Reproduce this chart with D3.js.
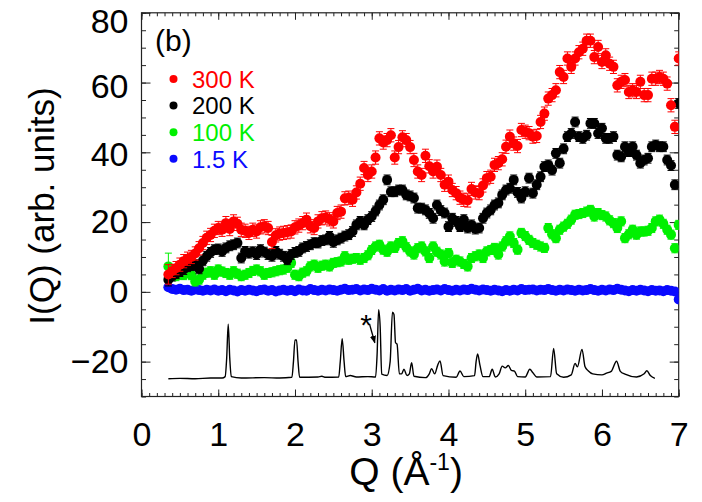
<!DOCTYPE html>
<html>
<head>
<meta charset="utf-8">
<script src="https://cdn.jsdelivr.net/npm/d3@7"></script>
<style>
  body { margin: 0; background: #fff; }
  svg { display: block; }
  text { font-family: "Liberation Sans", Arial, Helvetica, sans-serif; }
</style>
</head>
<body>
<svg id="chart" width="702" height="502"></svg>
<script>
// Momentum transfer grid (Å^-1)
const qValues = [
  0.35,0.40,0.45,0.50,0.55,0.60,0.65,0.70,0.75,0.80,
  0.85,0.90,0.95,1.00,1.05,1.10,1.15,1.20,1.25,1.30,
  1.35,1.40,1.45,1.50,1.55,1.60,1.65,1.70,1.75,1.80,
  1.85,1.90,1.95,2.00,2.05,2.10,2.15,2.20,2.25,2.30,
  2.35,2.40,2.45,2.50,2.55,2.60,2.65,2.70,2.75,2.80,
  2.85,2.90,2.95,3.00,3.05,3.10,3.15,3.20,3.25,3.30,
  3.35,3.40,3.45,3.50,3.55,3.60,3.65,3.70,3.75,3.80,
  3.85,3.90,3.95,4.00,4.05,4.10,4.15,4.20,4.25,4.30,
  4.35,4.40,4.45,4.50,4.55,4.60,4.65,4.70,4.75,4.80,
  4.85,4.90,4.95,5.00,5.05,5.10,5.15,5.20,5.25,5.30,
  5.35,5.40,5.45,5.50,5.55,5.60,5.65,5.70,5.75,5.80,
  5.85,5.90,5.95,6.00,6.05,6.10,6.15,6.20,6.25,6.30,
  6.35,6.40,6.45,6.50,6.55,6.60,6.65,6.70,6.75,6.80,
  6.85,6.90,6.95,7.00
];

// I(Q) at 300 K
const i300K = [
  5,6,6.8,7.8,8.8,9.5,10,11,12.5,14,
  15.5,16.3,17.5,18.3,17.8,19.7,18,20.2,19.5,17.8,
  17.5,16.9,17.8,17.3,18.5,18.8,18.3,14.3,16.2,16.7,
  16.9,17.1,17.3,18.5,19,19.7,20.7,18.8,18.3,20.2,
  21.1,21.3,20.8,20.2,22.6,23,26.8,27,26.4,28.5,
  31,35.5,33.5,34.5,38.5,44,42.8,43.5,44.9,38.5,
  41.5,44.3,43.5,41.5,37.8,34.5,33.5,39,36,34.5,
  35.9,33.5,30.7,31.6,29.2,28.3,27,26.4,26.2,29.5,
  28.5,28.3,30.5,32.6,33,36.4,36.9,38,41.6,44.5,
  42.5,41.8,46.4,45.9,45.5,44.5,44.7,48.7,51.1,55.4,
  56.4,57.8,63,61.6,66.9,64.5,66.9,68.7,69.7,72,
  72,67.3,70.2,65.9,67.8,65.4,64.5,59.2,60.2,60.7,
  57.3,57.8,57.3,60.2,56.4,56.4,61.1,61.1,61.6,61.1,
  59.7,53.5,47.3,66.9
];

// I(Q) at 200 K
const i200K = [
  3.5,4.5,5.2,5.8,6.4,7.2,7.5,7.8,6.6,8.9,
  10.2,11.3,12.1,12.3,11.6,12.6,13.2,13.5,14,9.7,
  11.6,11.1,11.5,10.7,12.1,11.4,10.7,10.2,11.6,10.8,
  10.2,9.2,10.7,11.3,11.6,12.6,13,13.5,14.1,14,
  14.7,14.9,15.9,14.2,14.9,15.4,16,16.4,17.3,19.2,
  20.2,19.2,20.7,21.6,23.2,24.9,26.4,32.1,28.7,28.7,
  29.2,29.2,27.8,27.5,26.9,24,24,23.5,22.5,21.1,
  24.9,23.3,22.6,18.7,21.1,20.2,18.7,20.7,18.3,19.2,
  18,18.3,21.1,22.6,23.5,24.9,25.5,27.8,29.2,29.7,
  32.1,28.5,26.9,28.7,32.6,28.3,30.7,33,35.9,36.4,
  34.9,39.7,36.9,41,44.5,45.4,48.7,44.5,44,44.9,
  48.3,48.3,45.4,46.9,44,44,44.5,39.2,38.7,41.6,
  40.2,41.6,39.2,36.9,37.8,38.3,41.6,42.1,41.6,41.6,
  37.8,36.2,30.7,54
];

// I(Q) at 100 K
const i100K = [
  7.3,5.5,4.5,4.9,4.8,5.4,4.8,3.0,3.5,4.9,
  5.5,5.9,4.9,6.4,5.8,5.4,4.9,5.9,5.2,4.5,
  4.9,5.4,6.0,6.4,5.9,4.9,5.4,5.6,5.9,6.2,
  6.4,6.9,8.3,4.9,4.5,5.5,5.9,7.3,7.8,6.9,
  7.5,7.8,7.3,8.3,8.5,8.7,10.2,9.2,9.5,9.7,
  9.2,9.7,10.5,12.0,13,13.5,12.1,11.5,13,12.6,
  14,14.5,12.8,11.6,10.7,12.5,13,11.6,9.7,13,
  11.5,10.7,8.7,11.1,8.3,9.2,8.7,8.0,7.3,9.7,
  10.2,10.7,9.7,11.6,12.0,12.6,10.7,13,14.5,15.9,
  14,12.1,16.9,16,14.9,14,13.5,13,12.6,18.3,
  16.5,15.4,17.8,18.7,19.5,20.7,22.1,22.3,22.6,23,
  23.5,21.6,22.6,22,21.6,20.5,19.7,18.3,20.2,15.4,
  16.5,17.8,16.4,17.3,17.3,17.5,18.3,20.2,20.7,19.5,
  17.8,16.4,12.5,19.2
];

// I(Q) at 1.5 K
const i1p5K = [
  1.3,0.8,0.6,0.9,0.5,0.6,0.3,0.7,0.5,0.3,
  0.6,0.4,0.7,0.3,0.5,0.2,0.6,0.4,0.1,0.5,
  0.3,0.6,0.4,0.2,0.5,0.7,0.3,0.5,0.1,0.4,
  0.6,0.3,0.5,0.2,0.7,0.4,0.3,0.8,0.5,0.3,
  0.6,0.4,0.7,0.5,0.3,0.6,0.9,0.5,0.6,0.8,
  0.4,0.7,0.5,0.9,0.6,0.4,0.8,0.3,0.6,0.4,
  0.7,0.5,0.8,0.3,0.6,0.9,0.4,0.6,0.3,0.5,
  0.7,0.4,0.8,0.5,0.3,0.6,0.4,0.7,0.5,0.9,
  0.6,0.4,0.7,0.5,0.3,0.6,0.4,0.2,0.5,0.3,
  0.6,0.4,0.8,0.5,0.6,0.7,0.4,0.6,0.5,0.8,
  0.5,0.3,0.6,0.4,0.7,0.5,0.3,0.6,0.4,0.5,
  0.8,0.5,0.3,0.6,0.4,0.7,0.5,0.9,0.6,0.4,
  0.2,0.5,0.3,0.6,0.4,0.2,0.5,0.3,0.4,0.2,
  0.5,0.3,0.1,-2.2
];

// Typical one-sigma error per temperature, and the error of the lowest-Q point
const seriesLabels = ["300 K", "200 K", "100 K", "1.5 K"];
const seriesColors = ["#ff0000", "#000000", "#00f000", "#0a0aff"];
const seriesErrors = [1.9, 1.4, 1.3, 0.4];
const firstPointErrors = [2.8, 1.8, 3.8, 0.5];

// Calculated pattern of the crystalline reference, offset below the data
const refQ = [
  0.35,0.50,0.70,0.90,1.05,1.09,1.11,1.13,1.15,1.17,1.30,1.60,1.80,
  1.96,1.98,2.00,2.02,2.04,2.06,2.30,2.35,2.40,2.57,2.59,2.615,2.64,2.66,
  2.72,2.80,2.95,3.05,3.07,3.09,3.11,3.13,3.20,3.24,3.27,3.29,3.31,3.33,
  3.36,3.39,3.42,3.46,3.49,3.52,3.55,3.70,3.75,3.78,3.82,3.86,3.89,3.93,
  4.10,4.15,4.20,4.34,4.36,4.38,4.41,4.45,4.53,4.57,4.61,4.66,4.70,4.74,
  4.78,4.82,4.86,4.90,5.00,5.06,5.10,5.15,5.33,5.37,5.41,5.50,5.60,5.65,
  5.68,5.74,5.78,5.82,5.88,6.00,6.06,6.12,6.19,6.24,6.30,6.45,6.55,6.585,
  6.63,6.69
];
const refI = [
  -24.9,-24.8,-24.9,-24.7,-24.7,-24.3,-19,-9.3,-19,-24.3,-24.7,-24.6,-24.7,
  -24.5,-20,-13.8,-13.8,-20,-24.5,-24.4,-24.2,-24.5,-24.4,-20,-13.4,-20,-24.3,
  -24.0,-24.4,-24.3,-24.4,-18,-5.1,-10,-23.6,-24,-20,-5.8,-6.5,-14.6,-15,
  -23.5,-23.5,-22.2,-24,-23.5,-20.3,-24.2,-24.6,-23.5,-22,-23.5,-21,-19.8,-24,
  -24.5,-22.7,-24.3,-24,-20,-17.8,-21,-24.3,-24.3,-22.2,-24.4,-23.5,-21.3,-21.8,
  -21.1,-22.5,-22.7,-24.3,-24.4,-22.2,-23.2,-24.4,-24.3,-16.2,-23.5,-24.5,-23.8,-20.5,
  -21.5,-16.5,-21.5,-22.6,-23.5,-23.8,-23.3,-22.8,-19.9,-22.8,-23.6,-24.4,-23.5,-22.6,
  -24,-24.8
];

// Axis ticks
const xMajorTicks = [0, 1, 2, 3, 4, 5, 6, 7];
const yMajorTicks = [-20, 0, 20, 40, 60, 80];

const svg = d3.select("#chart");
const plotLeft = 141.5, plotRight = 678.7, plotTop = 12.8, plotBottom = 396.5;

const x = d3.scaleLinear().domain([0, 7]).range([plotLeft, plotRight]);
const y = d3.scaleLinear().domain([-30, 80]).range([plotBottom, plotTop]);

const xMinor = d3.range(0, 70.5, 1).map(d => d / 10);
const yMinor = d3.range(-30, 80.5, 5);

const defs = svg.append("defs");
defs.append("clipPath").attr("id", "plotClip")
  .append("rect").attr("x", plotLeft).attr("y", plotTop)
  .attr("width", plotRight - plotLeft).attr("height", plotBottom - plotTop);

// Minor ticks on all four sides
function minorAxis(gen, tx, ty) {
  svg.append("g").attr("transform", `translate(${tx},${ty})`)
    .call(gen.tickSizeOuter(0).tickFormat(""))
    .call(g => g.select(".domain").remove())
    .call(g => g.selectAll("line").attr("stroke", "#222").attr("stroke-width", 1));
}
minorAxis(d3.axisBottom(x).tickValues(xMinor).tickSize(-3.5), 0, plotBottom);
minorAxis(d3.axisTop(x).tickValues(xMinor).tickSize(-3.5), 0, plotTop);
minorAxis(d3.axisLeft(y).tickValues(yMinor).tickSize(-4.5), plotLeft, 0);
minorAxis(d3.axisRight(y).tickValues(yMinor).tickSize(-4.5), plotRight, 0);

// Major ticks, labelled bottom and left
const axisFont = 34;
svg.append("g").attr("transform", `translate(0,${plotBottom})`)
  .call(d3.axisBottom(x).tickValues(xMajorTicks).tickSize(-7).tickSizeOuter(0).tickPadding(25)
    .tickFormat(d3.format("d")))
  .call(g => g.select(".domain").remove())
  .call(g => g.selectAll("line").attr("stroke", "#222"))
  .call(g => g.selectAll("text").attr("font-size", axisFont).attr("fill", "#000")
    .attr("font-family", "'Liberation Sans', Arial, sans-serif"));

svg.append("g").attr("transform", `translate(0,${plotTop})`)
  .call(d3.axisTop(x).tickValues(xMajorTicks).tickSize(-7).tickSizeOuter(0).tickFormat(""))
  .call(g => g.select(".domain").remove())
  .call(g => g.selectAll("line").attr("stroke", "#222"));

// The top labels sit a little below their ticks so they stay inside the page
const yLabelShift = { 80: 9, 60: 4, 40: 2 };
svg.append("g").attr("transform", `translate(${plotLeft},0)`)
  .call(d3.axisLeft(y).tickValues(yMajorTicks).tickSize(-9).tickSizeOuter(0).tickPadding(13)
    .tickFormat(d3.format("d")))
  .call(g => g.select(".domain").remove())
  .call(g => g.selectAll("line").attr("stroke", "#222"))
  .call(g => g.selectAll("text").attr("font-size", axisFont).attr("fill", "#000")
    .attr("font-family", "'Liberation Sans', Arial, sans-serif")
    .attr("y", d => yLabelShift[d] || 0));

svg.append("g").attr("transform", `translate(${plotRight},0)`)
  .call(d3.axisRight(y).tickValues(yMajorTicks).tickSize(-9).tickSizeOuter(0).tickFormat(""))
  .call(g => g.select(".domain").remove())
  .call(g => g.selectAll("line").attr("stroke", "#222"));

// Plot frame
svg.append("rect").attr("x", plotLeft).attr("y", plotTop)
  .attr("width", plotRight - plotLeft).attr("height", plotBottom - plotTop)
  .attr("fill", "none").attr("stroke", "#222").attr("stroke-width", 1.2);

const plot = svg.append("g").attr("clip-path", "url(#plotClip)");

// Reference pattern
const refLine = d3.line().x((d, i) => x(refQ[i])).y(d => y(d)).curve(d3.curveMonotoneX);
plot.append("path").datum(refI).attr("d", refLine)
  .attr("fill", "none").attr("stroke", "#000").attr("stroke-width", 1.4);

// Data series: drawn from the lowest temperature up so 300 K sits on top
const seriesData = [i300K, i200K, i100K, i1p5K];
const drawOrder = [3, 2, 1, 0];
const markerR = 5;
drawOrder.forEach(s => {
  const vals = seriesData[s];
  const pts = vals.map((v, i) => ({
    q: qValues[i], v,
    e: i === 0 ? firstPointErrors[s] : seriesErrors[s]
  }));
  const g = plot.append("g");
  const eb = g.selectAll("g.err").data(pts).join("g").attr("class", "err")
    .attr("stroke", seriesColors[s]).attr("stroke-width", 1);
  eb.append("line")
    .attr("x1", d => x(d.q)).attr("x2", d => x(d.q))
    .attr("y1", d => y(d.v - d.e)).attr("y2", d => y(d.v + d.e));
  eb.append("line")
    .attr("x1", d => x(d.q) - 3.5).attr("x2", d => x(d.q) + 3.5)
    .attr("y1", d => y(d.v + d.e)).attr("y2", d => y(d.v + d.e));
  eb.append("line")
    .attr("x1", d => x(d.q) - 3.5).attr("x2", d => x(d.q) + 3.5)
    .attr("y1", d => y(d.v - d.e)).attr("y2", d => y(d.v - d.e));
  g.selectAll("circle").data(pts).join("circle")
    .attr("cx", d => x(d.q)).attr("cy", d => y(d.v)).attr("r", markerR)
    .attr("fill", seriesColors[s]);
});

// Arrow pointing at the impurity peak
defs.append("marker").attr("id", "arrowHead")
  .attr("viewBox", "0 0 10 10").attr("refX", 9).attr("refY", 5)
  .attr("markerWidth", 6).attr("markerHeight", 6).attr("orient", "auto")
  .append("path").attr("d", "M0,1 L10,5 L0,9 Z").attr("fill", "#000");
svg.append("text").attr("x", 366).attr("y", 335).attr("font-size", 30)
  .attr("text-anchor", "middle").text("*");
svg.append("line")
  .attr("x1", 369.5).attr("y1", 324)
  .attr("x2", x(3.04)).attr("y2", y(-14.6))
  .attr("stroke", "#000").attr("stroke-width", 1.3)
  .attr("marker-end", "url(#arrowHead)");

// Panel tag and legend
svg.append("text").attr("x", 155).attr("y", 51).attr("font-size", 30).text("(b)");
const legend = svg.append("g");
seriesLabels.forEach((lab, i) => {
  const yy = 79 + i * 26.6;
  legend.append("circle").attr("cx", 173.5).attr("cy", yy).attr("r", 4)
    .attr("fill", seriesColors[i]);
  legend.append("text").attr("x", 192).attr("y", yy + 8.8).attr("font-size", 24)
    .attr("fill", seriesColors[i]).text(lab);
});

// Axis titles
const xt = svg.append("text").attr("x", (plotLeft + plotRight) / 2 - 4).attr("y", 485)
  .attr("font-size", 39).attr("text-anchor", "middle");
xt.append("tspan").text("Q (Å");
xt.append("tspan").attr("font-size", 23).attr("dy", -15).text("-1");
xt.append("tspan").attr("dy", 15).text(")");

svg.append("text").attr("transform", "translate(54,206) rotate(-90)")
  .attr("font-size", 35).attr("text-anchor", "middle").text("I(Q) (arb. units)");
</script>
</body>
</html>
